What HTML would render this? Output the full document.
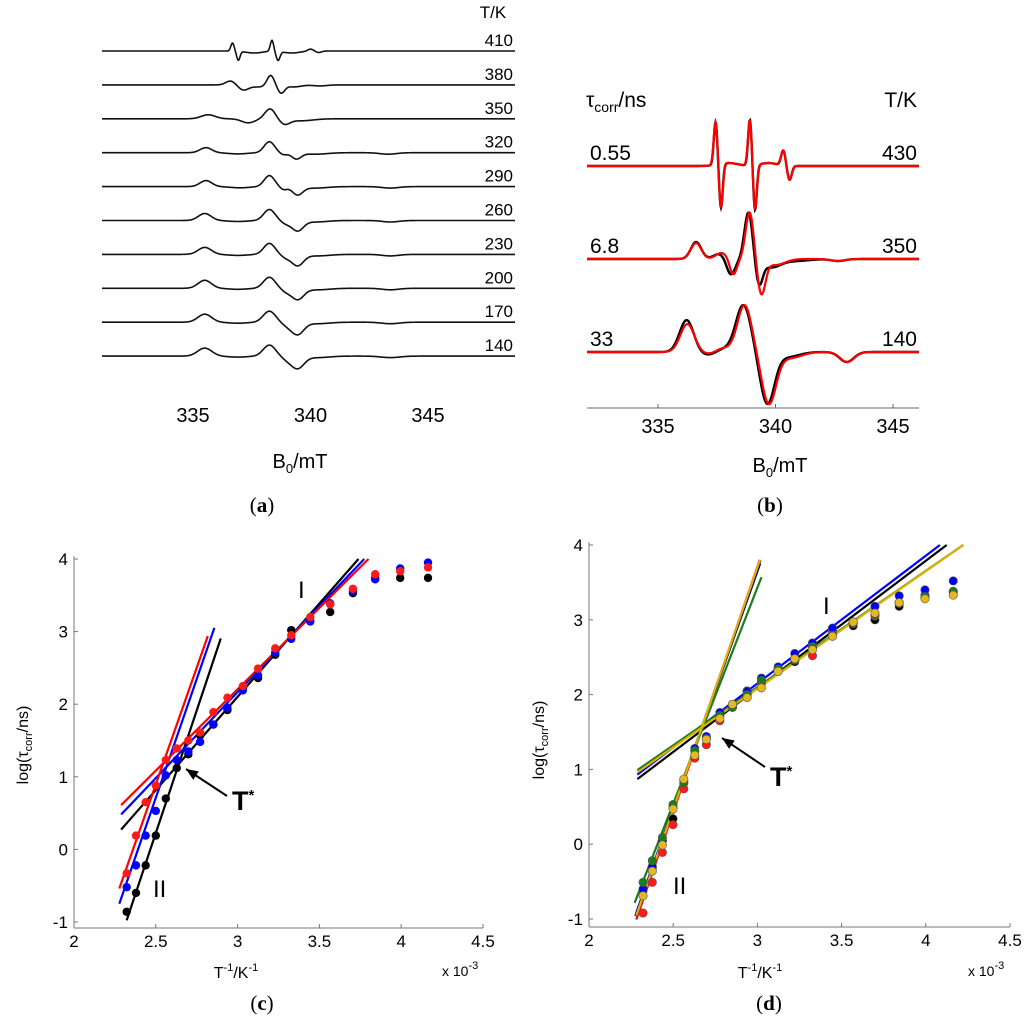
<!DOCTYPE html>
<html><head><meta charset="utf-8"><style>
html,body{margin:0;padding:0;background:#fff;}
svg{display:block;font-family:"Liberation Sans",sans-serif;}
</style></head><body>
<svg id="fig" width="1024" height="1028" viewBox="0 0 1024 1028" xmlns="http://www.w3.org/2000/svg">
<g id="pa"></g>
<g id="pb"></g>
<g id="pc"></g>
<g id="pd"></g>
<text x="262" y="512" text-anchor="middle" font-family="Liberation Serif,serif" font-size="21">(<tspan font-weight="bold">a</tspan>)</text>
<text x="770" y="512" text-anchor="middle" font-family="Liberation Serif,serif" font-size="21">(<tspan font-weight="bold">b</tspan>)</text>
<text x="262" y="1010" text-anchor="middle" font-family="Liberation Serif,serif" font-size="21">(<tspan font-weight="bold">c</tspan>)</text>
<text x="769" y="1010" text-anchor="middle" font-family="Liberation Serif,serif" font-size="21">(<tspan font-weight="bold">d</tspan>)</text>
</svg>
<script>
// ---------- Panel A data ----------
const tempsA = [410,380,350,320,290,260,230,200,170,140];
const compsA = [
 [[336.68,8,0.07],[336.93,-9,0.07],[337.6,-2,0.35],[338.36,11,0.07],[338.62,-9,0.08],[339.2,-2,0.35],[340.0,2,0.12],[340.35,-1.5,0.12]],
 [[336.6,4,0.2],[337.15,-5,0.22],[337.8,-2,0.3],[338.3,10,0.15],[338.75,-8,0.15],[339.3,-2,0.3],[340.4,-1,0.3]],
 [[335.65,4,0.3],[337.35,-4,0.28],[338.28,10,0.22],[338.9,-5,0.22],[339.6,-2,0.5]],
 [[335.55,5,0.25],[336.9,-1.2,0.4],[338.25,11,0.22],[338.85,-2,0.15],[339.4,-6,0.2],[340.2,-1.5,0.5],[343.3,-1.5,0.35]],
 [[335.55,6,0.25],[337.0,-1.2,0.4],[338.25,11,0.22],[338.85,-3,0.15],[339.45,-8,0.22],[340.2,-1.5,0.5],[343.4,-1.5,0.35]],
 [[335.5,7,0.27],[336.9,-1,0.4],[338.25,11,0.24],[338.95,-3,0.2],[339.45,-10,0.24],[340.2,-1.5,0.5],[343.4,-1.5,0.35]],
 [[335.5,7,0.28],[336.9,-1,0.4],[338.25,11,0.24],[338.95,-3,0.2],[339.45,-11,0.25],[340.3,-1.5,0.5],[343.4,-1.5,0.35]],
 [[335.5,8,0.28],[336.9,-1,0.4],[338.25,11,0.25],[338.95,-3,0.2],[339.45,-11,0.26],[340.3,-1.5,0.5],[343.4,-1.5,0.35]],
 [[335.5,8,0.29],[336.9,-1,0.4],[338.25,11,0.26],[339.0,-3,0.22],[339.45,-12,0.26],[340.3,-1.5,0.5],[343.4,-1.5,0.38]],
 [[335.5,8,0.3],[336.9,-1,0.4],[338.25,11,0.26],[339.0,-3,0.22],[339.45,-12,0.27],[340.3,-1.5,0.5],[343.4,-1.5,0.4]]
];
const ticksA = [335,340,345];
// ---------- Panel B data ----------
const tauB = ["0.55","6.8","33"];
const tempsB = ["430","350","140"];
const expB = [
 [[337.45,43,0.075],[337.68,-44,0.075],[338.0,3,0.4],[338.91,46,0.075],[339.13,-45,0.075],[339.7,3,0.35],[340.33,15,0.09],[340.6,-14,0.09]],
 [[336.62,17,0.22],[337.6,5,0.25],[338.1,-16,0.18],[338.85,47,0.17],[339.3,-23,0.15],[339.8,-8,0.4],[340.8,-2,0.6],[342.66,-2,0.3]],
 [[336.22,32,0.3],[337.07,-3,0.35],[337.8,3,0.3],[338.63,47,0.32],[339.65,-51,0.3],[340.5,-5,0.5],[343.03,-10,0.3]]
];
const simB = [
 [[337.45,43,0.08],[337.68,-43,0.08],[338.0,3,0.4],[338.91,46,0.08],[339.13,-44,0.08],[339.7,3,0.35],[340.33,15,0.095],[340.6,-14,0.095]],
 [[336.62,16,0.22],[337.7,6,0.25],[338.2,-16,0.15],[338.9,47,0.17],[339.4,-34,0.17],[340.0,-6,0.4],[342.66,-2,0.3]],
 [[336.25,28,0.3],[337.1,-2,0.35],[337.8,4,0.3],[338.68,47,0.3],[339.72,-51,0.3],[340.6,-6,0.5],[343.05,-10,0.3]]
];
const ticksB = [335,340,345];
// ---------- Panel C data ----------
const xC = [2.322,2.379,2.438,2.500,2.561,2.628,2.699,2.771,2.852,2.938,3.032,3.125,3.23,3.328,3.444,3.566,3.705,3.841,3.994,4.164];
const blackC = [-0.86,-0.60,-0.22,0.19,0.70,1.12,1.31,1.57,1.72,1.92,2.22,2.36,2.68,3.02,3.14,3.27,3.53,3.74,3.74,3.74];
const blueC  = [-0.52,-0.22,0.19,0.53,1.02,1.23,1.35,1.48,1.72,1.95,2.19,2.40,2.71,2.90,3.14,3.39,3.56,3.72,3.87,3.95];
const redC   = [-0.33,0.19,0.65,0.88,1.23,1.39,1.50,1.61,1.89,2.09,2.25,2.49,2.77,2.95,3.20,3.375,3.59,3.79,3.83,3.885];
const fitSlopeC = [6.75,2.569,6.54,2.369,6.43,2.242];
const fitInterC = [-16.65,-5.605,-15.64,-4.94,-15.18,-4.52];
const fitX0C = [2.322,2.288,2.277,2.288,2.277,2.288];
const fitX1C = [2.897,3.739,2.858,3.774,2.818,3.80];
const fitColC = ["#000","#000","#0000ff","#0000ff","#ff0000","#ff0000"];
const xTicks = [2,2.5,3,3.5,4,4.5];
const xTickLabels = ["2","2.5","3","3.5","4","4.5"];
const yTicks = [-1,0,1,2,3,4];
// ---------- Panel D data ----------
const xD = [2.321,2.376,2.436,2.499,2.563,2.628,2.697,2.777,2.852,2.939,3.024,3.123,3.222,3.327,3.446,3.569,3.698,3.842,3.995,4.163];
const blackD = [-0.62,-0.32,0.05,0.34,0.82,1.17,1.42,1.72,1.83,2.05,2.18,2.34,2.44,2.62,2.85,2.92,3.00,3.18,3.30,3.37];
const redD   = [-0.92,-0.51,-0.11,0.26,0.74,1.15,1.33,1.65,1.85,2.00,2.15,2.34,2.47,2.52,2.83,2.95,3.05,3.22,3.33,3.38];
const blueD  = [-0.60,-0.30,0.05,0.50,0.85,1.28,1.44,1.76,1.87,2.04,2.22,2.37,2.55,2.69,2.89,2.97,3.18,3.32,3.40,3.52];
const greenD = [-0.51,-0.22,0.09,0.53,0.82,1.25,1.41,1.72,1.83,2.00,2.19,2.34,2.46,2.64,2.79,2.96,3.07,3.23,3.31,3.38];
const yellowD= [-0.69,-0.36,-0.01,0.47,0.87,1.19,1.40,1.68,1.87,1.96,2.09,2.31,2.48,2.60,2.78,2.97,3.09,3.23,3.28,3.33];
const fitSlopeD = [6.35,1.704,6.56,6.40,1.708,5.78,1.555,6.47,1.570];
const fitInterD = [-15.40,-3.027,-15.97,-15.52,-2.976,-13.91,-2.566,-15.71,-2.63];
const fitX0D = [2.281,2.287,2.281,2.275,2.287,2.271,2.287,2.281,2.287];
const fitX1D = [3.016,4.124,3.014,3.018,4.084,3.024,4.223,3.016,4.223];
const fitColD = ["#000","#000","#ff0000","#0000ff","#0000ff","#1a7d1a","#1a7d1a","#e0b000","#e0b000"];

const NS="http://www.w3.org/2000/svg";
function mk(tag,parent){const e=document.createElementNS(NS,tag);parent.appendChild(e);return e;}
function spectrum(comps,B){let s=0;for(const c of comps){const u=(B-c[0])/c[2];s+=c[1]*Math.exp(-u*u/2);}return s;}
function specPath(comps,x0,x1,base,bx0,pxPerMT){let d="";
  for(let x=x0;x<=x1;x+=0.5){const B=335+(x-bx0)/pxPerMT;d+=(d?"L":"M")+x.toFixed(1)+","+(base-spectrum(comps,B)).toFixed(2);}return d;}

// Panel A
const pa=document.getElementById('pa');
tempsA.forEach((t,i)=>{
  const base=51+i*33.9;
  const p=mk('path',pa);
  p.setAttribute('d',specPath(compsA[i],102,515,base,193,23.5));
  p.setAttribute('fill','none');p.setAttribute('stroke','#111');p.setAttribute('stroke-width','1.6');
  
  
  const l=mk('text',pa);l.textContent=t;l.setAttribute('x',513);l.setAttribute('y',base-5);
  l.setAttribute('text-anchor','end');l.setAttribute('font-size','17');
  
  
});
{const l=mk('text',pa);l.textContent='T/K';l.setAttribute('x',493);l.setAttribute('y',18);l.setAttribute('text-anchor','middle');l.setAttribute('font-size','17');

}
ticksA.forEach(v=>{const l=mk('text',pa);l.textContent=v;l.setAttribute('x',193+(v-335)*23.5);l.setAttribute('y',422);l.setAttribute('text-anchor','middle');l.setAttribute('font-size','20');

});
{const l=mk('text',pa);l.innerHTML='B<tspan font-size="13" dy="5">0</tspan><tspan dy="-5">/mT</tspan>';l.setAttribute('x',300);l.setAttribute('y',468);l.setAttribute('text-anchor','middle');l.setAttribute('font-size','20');

}

// Panel B
const pb=document.getElementById('pb');
const baseB=[166,259,352];
tempsB.forEach((t,i)=>{
  const p1=mk('path',pb);p1.setAttribute('d',specPath(expB[i],587,919,baseB[i],658,23.5));
  p1.setAttribute('fill','none');p1.setAttribute('stroke','#000');p1.setAttribute('stroke-width','2.4');
  
  
  const p2=mk('path',pb);p2.setAttribute('d',specPath(simB[i],587,919,baseB[i],658,23.5));
  p2.setAttribute('fill','none');p2.setAttribute('stroke','#ff0000');p2.setAttribute('stroke-width','2.2');
  
  
  const a=mk('text',pb);a.textContent=tauB[i];a.setAttribute('x',590);a.setAttribute('y',baseB[i]-6);a.setAttribute('font-size','21');
  
  
  const b=mk('text',pb);b.textContent=t;b.setAttribute('x',917);b.setAttribute('y',baseB[i]-6);b.setAttribute('text-anchor','end');b.setAttribute('font-size','21');
  
  
});
{const ax=mk('line',pb);ax.setAttribute('x1',587);ax.setAttribute('x2',919);ax.setAttribute('y1',408);ax.setAttribute('y2',408);ax.setAttribute('stroke','#666');

}
ticksB.forEach(v=>{const x=658+(v-335)*23.5;const t=mk('line',pb);t.setAttribute('x1',x);t.setAttribute('x2',x);t.setAttribute('y1',408);t.setAttribute('y2',404);t.setAttribute('stroke','#666');


const l=mk('text',pb);l.textContent=v;l.setAttribute('x',x);l.setAttribute('y',433);l.setAttribute('text-anchor','middle');l.setAttribute('font-size','20');

});
{const l=mk('text',pb);l.innerHTML='B<tspan font-size="13" dy="5">0</tspan><tspan dy="-5">/mT</tspan>';l.setAttribute('x',780);l.setAttribute('y',472);l.setAttribute('text-anchor','middle');l.setAttribute('font-size','20');


const t=mk('text',pb);t.innerHTML='τ<tspan font-size="14" dy="5">corr</tspan><tspan dy="-5">/ns</tspan>';t.setAttribute('x',586);t.setAttribute('y',107);t.setAttribute('font-size','21');


const k=mk('text',pb);k.textContent='T/K';k.setAttribute('x',917);k.setAttribute('y',107);k.setAttribute('text-anchor','end');k.setAttribute('font-size','21');

}

// Scatter panels
function scatterPanel(g,ax,series,cols,edge,fits){
  const X=v=>ax.x0+(v-2)*ax.sx, Y=v=>ax.y4+(4-v)*ax.sy;
  const a1=mk('line',g);a1.setAttribute('x1',ax.x0);a1.setAttribute('x2',ax.x0);a1.setAttribute('y1',ax.y4-3);a1.setAttribute('y2',ax.base);a1.setAttribute('stroke','#777');
  
  
  const a2=mk('line',g);a2.setAttribute('x1',ax.x0);a2.setAttribute('x2',X(4.5));a2.setAttribute('y1',ax.base);a2.setAttribute('y2',ax.base);a2.setAttribute('stroke','#777');
  
  
  yTicks.forEach(v=>{const t=mk('line',g);t.setAttribute('x1',ax.x0);t.setAttribute('x2',ax.x0+4);t.setAttribute('y1',Y(v));t.setAttribute('y2',Y(v));t.setAttribute('stroke','#777');
    
    
    const l=mk('text',g);l.textContent=v;l.setAttribute('x',ax.x0-6);l.setAttribute('y',Y(v)+6);l.setAttribute('text-anchor','end');l.setAttribute('font-size','17');
    
    });
  xTicks.forEach((v,i)=>{const t=mk('line',g);t.setAttribute('x1',X(v));t.setAttribute('x2',X(v));t.setAttribute('y1',ax.base);t.setAttribute('y2',ax.base-4);t.setAttribute('stroke','#777');
    
    
    const l=mk('text',g);l.textContent=xTickLabels[i];l.setAttribute('x',X(v));l.setAttribute('y',ax.base+19);l.setAttribute('text-anchor','middle');l.setAttribute('font-size','17');
    
    });
  fits.s.forEach((s,i)=>{const ln=mk('line',g);const x0=fits.x0[i],x1=fits.x1[i];
    ln.setAttribute('x1',X(x0));ln.setAttribute('y1',Y(s*x0+fits.b[i]));ln.setAttribute('x2',X(x1));ln.setAttribute('y2',Y(s*x1+fits.b[i]));
    ln.setAttribute('stroke',fits.c[i]);ln.setAttribute('stroke-width','2.2');
    
    });
  series.forEach((ys,si)=>{ys.forEach((v,j)=>{const c=mk('circle',g);c.setAttribute('cx',X(ax.xs[j]));c.setAttribute('cy',Y(v));c.setAttribute('r',4.2);c.setAttribute('fill',cols[si]);
    if(edge){c.setAttribute('stroke','#555');c.setAttribute('stroke-width','0.6');}
    
    });});
}
const pc=document.getElementById('pc');
scatterPanel(pc,{x0:74,sx:163.6,y4:559,sy:72.6,base:928,xs:xC},[blackC,blueC,redC],["#000","#0000ff","#ff1a1a"],false,
 {s:fitSlopeC,b:fitInterC,x0:fitX0C,x1:fitX1C,c:fitColC});
const pd=document.getElementById('pd');
scatterPanel(pd,{x0:589,sx:168.4,y4:545,sy:74.8,base:927,xs:xD},[blackD,redD,blueD,greenD,yellowD],["#000","#ff1a1a","#0000ff","#1a7d1a","#e6b820"],true,
 {s:fitSlopeD,b:fitInterD,x0:fitX0D,x1:fitX1D,c:fitColD});

function addText(g,html,x,y,size,name,extra){const t=mk('text',g);t.innerHTML=html;t.setAttribute('x',x);t.setAttribute('y',y);t.setAttribute('font-size',size);
 if(extra)for(const k in extra)t.setAttribute(k,extra[k]);
 
 return t;}
function addArrow(g,x1,y1,x2,y2,name){const l=mk('line',g);l.setAttribute('x1',x1);l.setAttribute('y1',y1);l.setAttribute('x2',x2);l.setAttribute('y2',y2);l.setAttribute('stroke','#000');l.setAttribute('stroke-width','2');
 
 
 const ang=Math.atan2(y2-y1,x2-x1),L=13,w=0.4;const p=mk('polygon',g);
 p.setAttribute('points',`${x2},${y2} ${x2-L*Math.cos(ang-w)},${y2-L*Math.sin(ang-w)} ${x2-L*Math.cos(ang+w)},${y2-L*Math.sin(ang+w)}`);
 
 }
// Panel c annotations
addText(pc,'I',298,598,24,'regime-label-i');
addText(pc,'II',153,897,24,'regime-label-ii');
addText(pc,'T<tspan font-size="15" dy="-10">*</tspan>',232,810,27,'t-star-label',{'font-weight':'bold'});
addArrow(pc,227,796,186,769,'t-star-arrow');
addText(pc,'T<tspan font-size="11" dy="-7">-1</tspan><tspan dy="7">/K</tspan><tspan font-size="11" dy="-7">-1</tspan>',236,978,16,'x-axis-title',{'text-anchor':'middle'});
addText(pc,'x 10<tspan font-size="11" dy="-7">-3</tspan>',442,976,14,'x-axis-multiplier');
addText(pc,'log(τ<tspan font-size="11" dy="4">corr</tspan><tspan dy="-4">/ns)</tspan>',0,0,16,'y-axis-title',{'transform':'translate(28,745) rotate(-90)','text-anchor':'middle'});
// Panel d annotations
addText(pd,'I',823,614,24,'regime-label-i');
addText(pd,'II',673,894,24,'regime-label-ii');
addText(pd,'T<tspan font-size="15" dy="-10">*</tspan>',770,786,27,'t-star-label',{'font-weight':'bold'});
addArrow(pd,765,767,722,738,'t-star-arrow');
addText(pd,'T<tspan font-size="11" dy="-7">-1</tspan><tspan dy="7">/K</tspan><tspan font-size="11" dy="-7">-1</tspan>',760,978,16,'x-axis-title',{'text-anchor':'middle'});
addText(pd,'x 10<tspan font-size="11" dy="-7">-3</tspan>',968,976,14,'x-axis-multiplier');
addText(pd,'log(τ<tspan font-size="11" dy="4">corr</tspan><tspan dy="-4">/ns)</tspan>',0,0,16,'y-axis-title',{'transform':'translate(544,740) rotate(-90)','text-anchor':'middle'});
</script>
</body></html>
